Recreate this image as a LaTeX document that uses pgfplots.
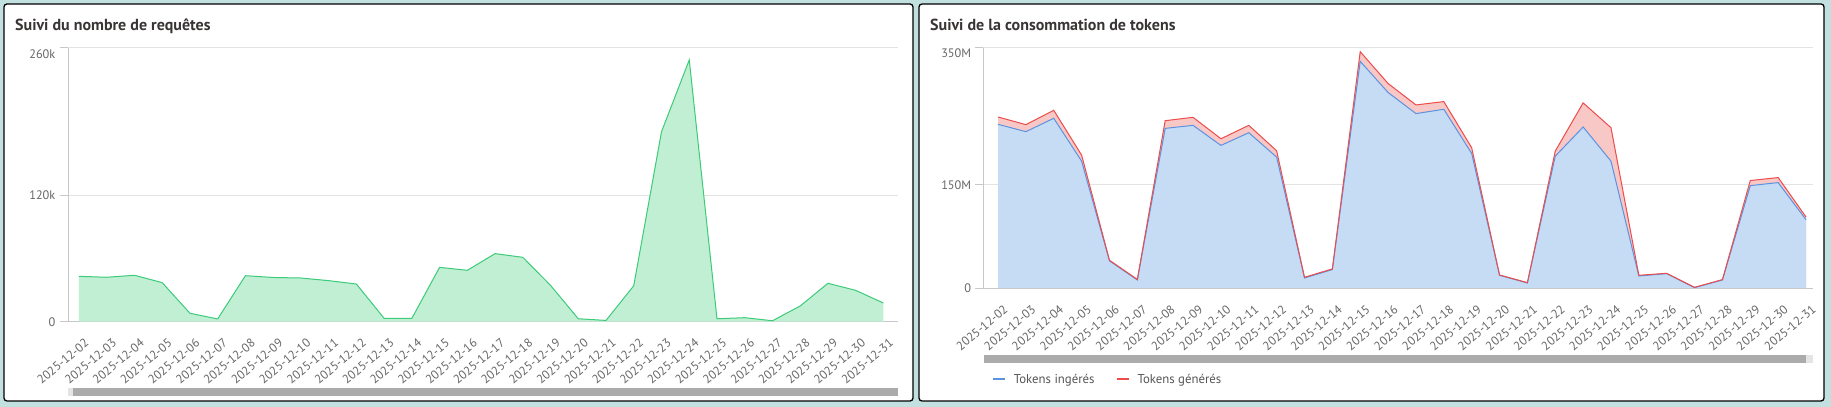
\documentclass[border=0pt]{standalone}
\usepackage{fontspec}
\setmainfont{PT Sans}
\usepackage{pgfplots}
\pgfplotsset{compat=1.18}
\usepackage{pgfplotstable}

\definecolor{bg}{HTML}{C2E0E0}
\definecolor{gline}{HTML}{3CCB78}
\definecolor{gfill}{HTML}{C0EFD4}
\definecolor{bline}{HTML}{5B93E0}
\definecolor{bfill}{HTML}{C6DCF5}
\definecolor{rline}{HTML}{EE4B4B}
\definecolor{rfill}{HTML}{F8C8C6}
\definecolor{gridc}{HTML}{E3E3E3}
\definecolor{axisc}{HTML}{C8C8C8}
\definecolor{tickc}{HTML}{666666}
\definecolor{titlec}{HTML}{3A3535}
\definecolor{legc}{HTML}{555555}
\definecolor{scroll}{HTML}{ABABAB}
\definecolor{scrolll}{HTML}{E4E4E4}

\newcommand{\ticklab}{\fontsize{12.3bp}{14bp}\selectfont}
\newcommand{\titlefont}{\fontsize{16bp}{19bp}\selectfont\bfseries}
\newcommand{\legfont}{\fontsize{12.8bp}{15bp}\selectfont}

\pgfplotstableread{
x y
0 43.0
1 42.1
2 44.0
3 37.0
4 8.0
5 2.6
6 43.6
7 41.9
8 41.4
9 38.9
10 35.7
11 3.2
12 3.2
13 51.5
14 48.7
15 64.5
16 61.0
17 34.4
18 2.8
19 1.2
20 34.1
21 180
22 248
23 2.8
24 3.8
25 0.9
26 14.9
27 36.4
28 29.7
29 17.7
}\req

\pgfplotstableread{
x in gen
0 238.2 10.7
1 227.5 10.2
2 247.0 11.6
3 184.6 8.8
4 39.5 0.9
5 11.7 0.8
6 232.3 11.2
7 236.7 11.7
8 207.5 9.7
9 226.0 10.7
10 190.5 9.2
11 14.6 1.0
12 26.8 1.0
13 329.8 14.1
14 284.5 13.1
15 253.8 12.6
16 260.1 11.2
17 195.8 8.3
18 18.5 0.5
19 7.3 0.5
20 191.9 7.3
21 234.3 35.1
22 184.6 48.7
23 17.5 1.0
24 20.9 0.5
25 0.5 0.5
26 11.7 0.5
27 149.0 7.4
28 153.4 7.3
29 99.4 3.9
}\tok

\pgfplotsset{
  dash/.style={
    scale only axis,
    anchor=south west,
    ymin=0,
    axis x line*=bottom, axis y line*=left,
    axis line style={draw=axisc, line width=1bp, -},
    xtick={0,...,29},
    xticklabels={2025-12-02,2025-12-03,2025-12-04,2025-12-05,2025-12-06,2025-12-07,2025-12-08,2025-12-09,2025-12-10,2025-12-11,2025-12-12,2025-12-13,2025-12-14,2025-12-15,2025-12-16,2025-12-17,2025-12-18,2025-12-19,2025-12-20,2025-12-21,2025-12-22,2025-12-23,2025-12-24,2025-12-25,2025-12-26,2025-12-27,2025-12-28,2025-12-29,2025-12-30,2025-12-31},
    major x tick style={draw=none},
    x tick label style={font=\ticklab, text=tickc, xshift=5bp, yshift=-8bp, rotate=40, anchor=north east, inner sep=0pt},
    y tick label style={font=\ticklab, text=tickc, anchor=east, inner sep=0pt},
    ymajorgrids, grid style={draw=gridc, line width=1bp},
    major y tick style={draw=axisc, line width=1bp},
    tick align=outside, major tick length=8bp,
    /pgf/number format/assume math mode=true,
  }
}

\begin{document}
\begin{tikzpicture}
\useasboundingbox (0,0) rectangle (1831bp,407bp);
\fill[bg] (0,0) rectangle (1831bp,407bp);
\draw[black, line width=1.3bp, fill=white, rounded corners=3bp] (4bp,403bp) rectangle (913bp,6bp);
\draw[black, line width=1.3bp, fill=white, rounded corners=3bp] (919bp,403bp) rectangle (1824bp,6bp);

\node[anchor=base west, font=\titlefont, text=titlec, inner sep=0pt] at (15bp,376.3bp) {Suivi du nombre de requêtes};
\node[anchor=base west, font=\titlefont, text=titlec, inner sep=0pt] at (930bp,376.3bp) {Suivi de la consommation de tokens};

\begin{axis}[dash,
  at={(68bp,85.3bp)}, width=829.7bp, height=274.4bp,
  xmin=-0.396, xmax=29.515, ymax=260,
  ytick={0,120}, yticklabels={0,120k},
  extra y ticks={260}, extra y tick labels={260k},
  extra y tick style={grid=major, yticklabel style={yshift=-7bp}},
  y tick label style={xshift=-4.5bp},
]
\addplot[fill=gfill, draw=none] table[x=x,y=y] {\req} \closedcycle;
\addplot[draw=gline, line width=1bp, no marks] table[x=x,y=y] {\req};
\end{axis}

\begin{axis}[dash,
  at={(983.3bp,119bp)}, width=829.4bp, height=240.5bp,
  xmin=-0.528, xmax=29.24, ymax=350,
  ytick={0,150}, yticklabels={0,150M},
  extra y ticks={350}, extra y tick labels={350M},
  extra y tick style={grid=major, yticklabel style={yshift=-6bp}},
  y tick label style={xshift=-4bp},
  legend style={at={(0,0)}, anchor=west, xshift=8.4bp, yshift=-91.3bp,
    draw=none, fill=none, inner sep=0pt, font=\legfont, text=legc,
    legend columns=2,
    nodes={inner sep=0pt},
    /tikz/every odd column/.style={column sep=8bp},
    /tikz/every even column/.style={column sep=21bp}},
  legend image code/.code={\draw[#1, line width=2bp] (0bp,0bp) -- (12bp,0bp);},
]
\addplot[fill=rfill, draw=none, forget plot] table[x=x, y expr=\thisrow{in}+\thisrow{gen}] {\tok} \closedcycle;
\addplot[fill=bfill, draw=none, forget plot] table[x=x, y=in] {\tok} \closedcycle;
\addplot[draw=bline, line width=1bp, no marks] table[x=x, y=in] {\tok};
\addlegendentry{Tokens ingérés}
\addplot[draw=rline, line width=1bp, no marks] table[x=x, y expr=\thisrow{in}+\thisrow{gen}] {\tok};
\addlegendentry{Tokens générés}
\end{axis}

\fill[scrolll] (68bp,11.3bp) rectangle (73bp,19bp);
\fill[scroll] (73bp,11.3bp) rectangle (897.7bp,19bp);
\fill[scroll] (984bp,44.3bp) rectangle (1806bp,52bp);
\fill[scrolll] (1806bp,44.3bp) rectangle (1813bp,52bp);
\end{tikzpicture}
\end{document}
